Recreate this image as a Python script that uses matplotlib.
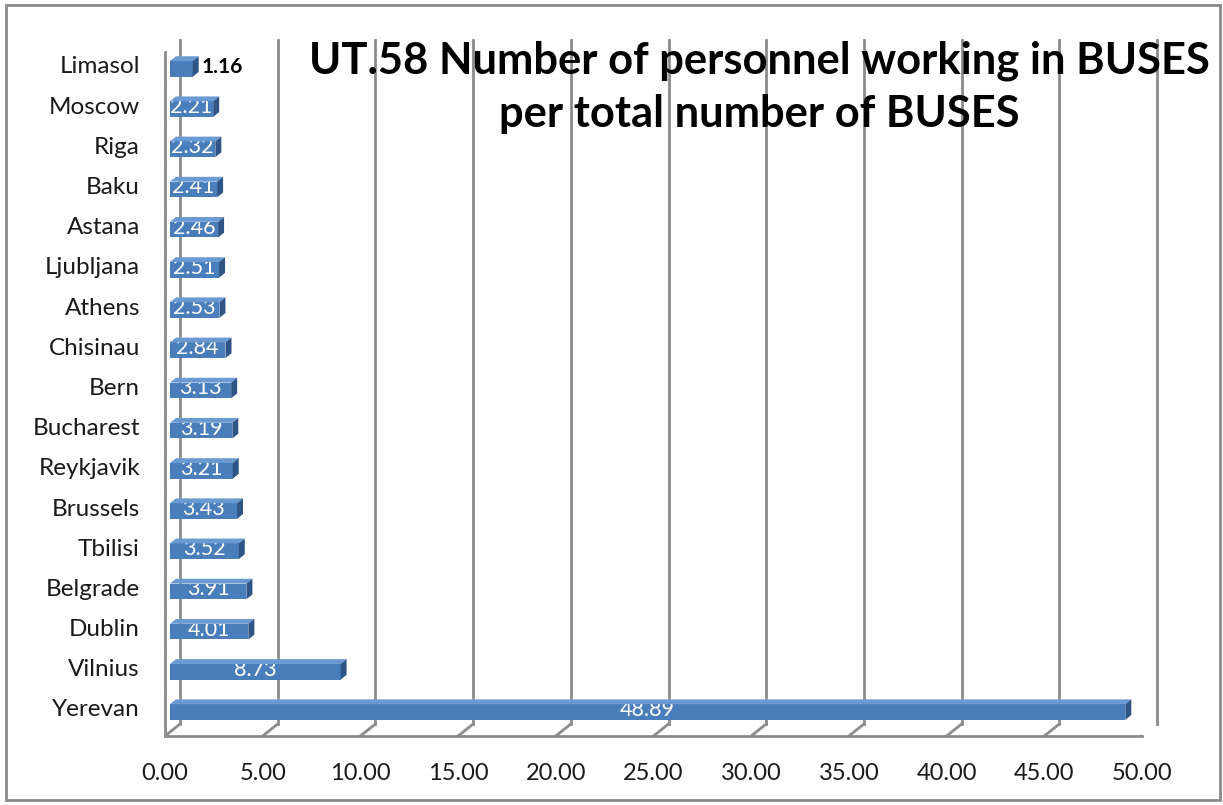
"""UT.58 personnel per bus - horizontal 3D-style bar chart (Excel look)."""
import matplotlib
matplotlib.use("Agg")
import matplotlib.pyplot as plt
from matplotlib.transforms import offset_copy
from matplotlib.patches import Polygon, Rectangle

cities = ["Yerevan", "Vilnius", "Dublin", "Belgrade", "Tbilisi", "Brussels",
          "Reykjavik", "Bucharest", "Bern", "Chisinau", "Athens", "Ljubljana",
          "Astana", "Baku", "Riga", "Moscow", "Limasol"]
values = [48.89, 8.73, 4.01, 3.91, 3.52, 3.43, 3.21, 3.19, 3.13, 2.84,
          2.53, 2.51, 2.46, 2.41, 2.32, 2.21, 1.16]
xticks = [0, 5, 10, 15, 20, 25, 30, 35, 40, 45, 50]

FRONT = "#4A7EBB"
TOP = "#6B9AD3"
SIDE = "#2F5587"
GRID = "#8C8C8C"
FONT = ["Lato", "DejaVu Sans"]
plt.rcParams["font.family"] = FONT

W, H = 1223, 805
fig = plt.figure(figsize=(W / 100, H / 100), dpi=100)
ax = fig.add_axes([165 / W, 1 - 736 / H, 977 / W, (736 - 52) / H])
ymin, ymax = -0.647, 16.37
ax.set_xlim(0, 50)
ax.set_ylim(ymin, ymax)
for s in ax.spines.values():
    s.set_visible(False)
ax.set_xticks([])
ax.set_yticks([])
ax.patch.set_alpha(0)

# back wall (shifted by depth)
dx, dy = 15, 12
back = offset_copy(ax.transData, fig, x=dx, y=dy, units="dots")
for k in xticks:
    ax.plot([k, k], [ymin, ymax], color=GRID, lw=2, transform=back, zorder=1,
            clip_on=False)
    # floor diagonal + front tick
    p0 = ax.transData.transform((k, ymin))
    ax.add_artist(plt.Line2D([p0[0], p0[0] + dx], [p0[1], p0[1] + dy],
                             color=GRID, lw=2, transform=None, zorder=1))
    ax.add_artist(plt.Line2D([p0[0], p0[0]], [p0[1], p0[1] - 8],
                             color=GRID, lw=2, transform=None, zorder=1))
    ax.text(k, ymin, f"{k:.2f}", transform=offset_copy(ax.transData, fig, x=0, y=-37, units="dots"),
            ha="center", va="center", fontsize=17, color="#1a1a1a")

# front axis lines
ax.plot([0, 50], [ymin, ymin], color=GRID, lw=2, zorder=1, clip_on=False)
ax.plot([0, 0], [ymin, ymax], color=GRID, lw=2, zorder=1, clip_on=False)
pt = ax.transData.transform((0, ymax))
ax.add_artist(plt.Line2D([pt[0], pt[0] + dx], [pt[1], pt[1] + dy],
                         color=GRID, lw=2, transform=None, zorder=1))
for b in range(len(cities) + 1):
    yb = b - 0.5
    if ymin <= yb <= ymax:
        p = ax.transData.transform((0, yb))
        ax.add_artist(plt.Line2D([p[0] - 9, p[0]], [p[1], p[1]], color=GRID,
                                 lw=2, transform=None, zorder=1))

# category labels
for i, c in enumerate(cities):
    ax.text(0, i, c, transform=offset_copy(ax.transData, fig, x=-25, y=0, units="dots"),
            ha="right", va="center", fontsize=17.5, color="#1a1a1a")

# bars: front face through barh, extruded faces from same data
bh = 0.39
bd = 6
shift = offset_copy(ax.transData, fig, x=5, y=-2, units="dots")
bars = ax.barh(range(len(cities)), values, height=bh, color=FRONT,
               transform=shift, zorder=3)
fig.canvas.draw()
for i, v in enumerate(values):
    x0, y0 = shift.transform((0, i - bh / 2))
    x1, y1 = shift.transform((v, i + bh / 2))
    top = Polygon([(x0, y1), (x1, y1), (x1 + bd, y1 + bd * 0.8), (x0 + bd, y1 + bd * 0.8)],
                  closed=True, facecolor=TOP, edgecolor="none", transform=None, zorder=3)
    side = Polygon([(x1, y0), (x1, y1), (x1 + bd, y1 + bd * 0.8), (x1 + bd, y0 + bd * 0.8)],
                   closed=True, facecolor=SIDE, edgecolor="none", transform=None, zorder=3)
    fig.add_artist(top)
    fig.add_artist(side)
    if cities[i] == "Limasol":
        ax.text(v, i, f"{v:.2f}", transform=offset_copy(ax.transData, fig, x=14, y=0, units="dots"),
                ha="left", va="center", fontsize=15, fontweight="bold", color="black", zorder=4)
    else:
        ax.text(v / 2, i, f"{v:.2f}", transform=offset_copy(ax.transData, fig, x=5, y=0, units="dots"),
                ha="center", va="center", fontsize=15.5, color="white", zorder=4)

fig.text(759 / W, 1 - 87 / H, "UT.58 Number of personnel working in BUSES\nper total number of BUSES",
         ha="center", va="center", fontsize=31.3, fontweight="bold", linespacing=1.38,
         family=FONT)

fig.add_artist(Rectangle((6 / W, 1 - 800 / H), 1214 / W, 795 / H, transform=fig.transFigure,
                         fill=False, edgecolor="#8a8a8a", lw=2))

fig.savefig("out.png", dpi=100)
